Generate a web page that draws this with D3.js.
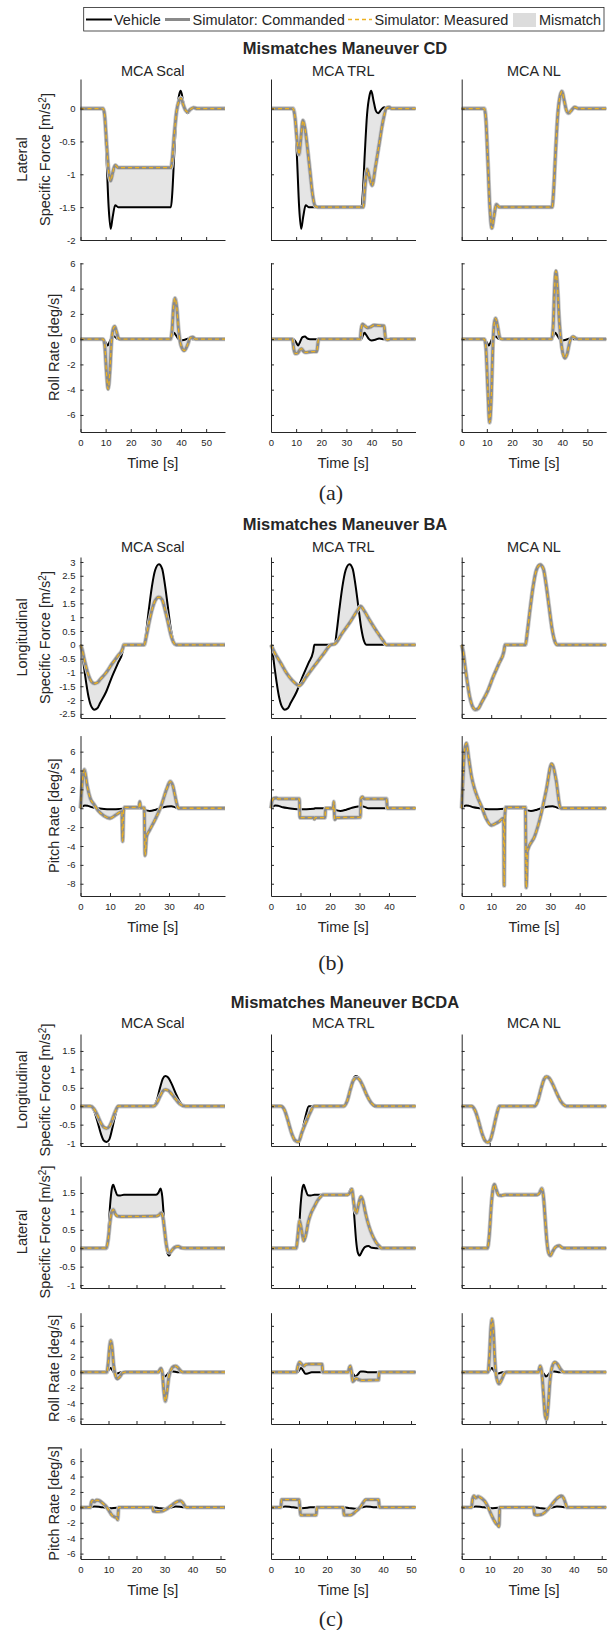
<!DOCTYPE html>
<html>
<head>
<meta charset="utf-8">
<script src="https://cdn.jsdelivr.net/npm/d3@7"></script>
<style>
body { margin: 0; background: #fff; }
text { font-family: "Liberation Sans", Arial, sans-serif; fill: #262626; }
</style>
</head>
<body>
<svg id="fig" width="616" height="1630"></svg>
<script>
// ---- values: [time s, value] ----
const columns = ['MCA Scal', 'MCA TRL', 'MCA NL'];

// (a) maneuver CD, lateral specific force
const cdLatVeh = [[0,0],[9,0],[9.6,-0.15],[10.4,-0.8],[11.2,-1.5],[12,-1.83],[12.8,-1.65],[13.8,-1.47],[15,-1.5],[36,-1.5],[36.5,-1.3],[37.3,-0.7],[38.2,-0.1],[39.2,0.2],[39.9,0.27],[40.8,0.12],[41.7,-0.03],[42.6,-0.07],[43.8,-0.02],[45,0.02],[46.5,0],[57.5,0]];
const cdLatScal = [[0,0],[9,0],[9.6,-0.1],[10.4,-0.55],[11.2,-0.95],[12,-1.1],[12.8,-0.98],[13.8,-0.86],[15,-0.9],[36,-0.9],[36.5,-0.78],[37.3,-0.4],[38.2,-0.05],[39.2,0.12],[40,0.16],[40.8,0.07],[41.7,-0.02],[42.6,-0.05],[43.8,-0.01],[45,0.015],[46.5,0],[57.5,0]];
const cdLatTrl = [[0,0],[8.8,0],[9.6,-0.15],[10.4,-0.5],[11.2,-0.7],[11.9,-0.45],[12.7,-0.18],[13.5,-0.3],[14.5,-0.6],[15.5,-0.95],[16.5,-1.3],[17.5,-1.48],[18.5,-1.5],[36.7,-1.5],[37.4,-1.2],[38.3,-0.92],[39.2,-1.05],[40.2,-1.17],[41.5,-0.9],[43,-0.55],[44.5,-0.2],[46,0.01],[47,0.02],[48,0],[57.5,0]];
const cdLatNl = [[0,0],[9,0],[9.6,-0.15],[10.4,-0.8],[11.2,-1.5],[12,-1.82],[12.8,-1.65],[13.8,-1.46],[15,-1.5],[36,-1.5],[36.5,-1.3],[37.3,-0.7],[38.2,-0.1],[39.2,0.2],[39.9,0.26],[40.8,0.12],[41.7,-0.03],[42.6,-0.07],[43.8,-0.02],[45,0.02],[46.5,0],[57.5,0]];

// (a) maneuver CD, roll rate
const cdRollVeh = [[0,0],[9,0],[9.8,-0.2],[10.8,-0.5],[11.6,-0.2],[12.5,0.15],[13.5,0.2],[14.5,0.05],[15.5,0],[36,0],[36.6,0.3],[37.2,0.5],[38,0.3],[39,0],[40,-0.1],[41.5,-0.05],[43,0.05],[44.5,0],[57.5,0]];
const cdRollScal = [[0,0],[9,0],[9.6,-0.4],[10.3,-2.5],[11,-3.95],[11.7,-2.5],[12.3,-0.3],[13,0.8],[13.6,1.0],[14.3,0.6],[15.2,0.05],[16,0],[35.8,0],[36.4,0.6],[37,2.5],[37.6,3.25],[38.3,2.5],[39,0.8],[40,-0.5],[41.3,-0.9],[42.5,-0.5],[43.7,0.1],[44.7,0.15],[45.8,0],[57.5,0]];
const cdRollTrl = [[0,0],[8.5,0],[9.1,-0.8],[9.7,-1.15],[10.6,-1.1],[11.3,-0.9],[12.1,-0.75],[12.9,-0.95],[13.7,-1.05],[15.5,-1.0],[18.2,-0.98],[18.6,-0.4],[18.9,0],[35.5,0],[35.9,0.8],[36.4,1.18],[37.3,1.05],[38.5,0.9],[39.5,0.95],[41,1.1],[43,1.07],[45,1.05],[45.3,0.5],[45.6,0],[46.5,-0.05],[47.5,0],[57.5,0]];
const cdRollNl = [[0,0],[9,0],[9.6,-0.6],[10.4,-4],[11.1,-6.6],[11.8,-4.5],[12.4,-0.5],[13,1.3],[13.5,1.65],[14.2,1.1],[15.2,0.1],[16,0],[35.8,0],[36.4,1],[37,4.2],[37.5,5.4],[38.1,4.2],[38.8,1.5],[39.8,-0.6],[41,-1.5],[41.9,-1.2],[43,-0.2],[44.3,0.2],[45.5,0.05],[46.5,0],[57.5,0]];

// (b) maneuver BA, longitudinal specific force
const baLonVeh = [[0,0],[0.5,-0.25],[1.3,-0.9],[2.7,-1.87],[3.7,-2.24],[4.7,-2.35],[5.7,-2.3],[6.7,-2.1],[8.7,-1.7],[10.7,-1.15],[12.7,-0.66],[14.3,-0.24],[14.7,0],[21.6,0],[22.3,0.5],[23.2,1.3],[24.2,2.1],[25.3,2.7],[26.6,2.92],[27.7,2.75],[28.6,2.2],[29.6,1.4],[30.6,0.6],[31.6,0.12],[32.4,0],[49,0]];
const baLonScal = [[0,0],[0.5,-0.15],[1.3,-0.54],[2.7,-1.1],[3.7,-1.33],[4.7,-1.4],[5.7,-1.37],[6.7,-1.25],[8.7,-1.01],[10.7,-0.69],[12.7,-0.4],[14.3,-0.14],[14.7,0],[21.6,0],[22.3,0.3],[23.2,0.78],[24.2,1.25],[25.3,1.6],[26.6,1.73],[27.7,1.63],[28.6,1.3],[29.6,0.85],[30.6,0.38],[31.6,0.08],[32.4,0],[49,0]];
const baLonTrl = [[0,0],[1.3,-0.3],[3.3,-0.66],[5.3,-1.03],[7.3,-1.3],[9.6,-1.48],[12,-1.15],[15,-0.72],[18,-0.3],[20.3,0],[21.6,0.03],[24,0.4],[27,0.85],[29.5,1.28],[30.4,1.4],[31.3,1.28],[33.5,0.88],[36,0.46],[38,0.15],[39.1,0],[49,0]];
const baLonNl = [[0,0],[0.5,-0.25],[1.3,-0.9],[2.7,-1.87],[3.7,-2.24],[4.7,-2.35],[5.7,-2.3],[6.7,-2.1],[8.7,-1.7],[10.7,-1.15],[12.7,-0.66],[14.3,-0.24],[14.7,0],[21.6,0],[22.3,0.5],[23.2,1.3],[24.2,2.1],[25.3,2.7],[26.6,2.9],[27.7,2.75],[28.6,2.2],[29.6,1.4],[30.6,0.6],[31.6,0.12],[32.4,0],[49,0]];

// (b) maneuver BA, pitch rate
const baPitchVeh = [[0,0],[0.7,0.2],[1.5,0.3],[2.5,0.25],[4,0.1],[6,0],[9,-0.1],[12,-0.1],[14.5,-0.05],[15,0],[21.5,0],[22,-0.2],[23.5,-0.28],[25.5,-0.15],[27.5,0.05],[29.5,0.18],[30.8,0.22],[32,0.12],[33,0],[49,0]];
const baPitchScal = [[0,0],[0.4,1.8],[0.9,3.6],[1.3,4.1],[2.3,2.3],[3.3,1.06],[4.7,0.35],[6,-0.25],[8,-0.8],[10,-1.06],[12,-0.7],[14,-0.35],[14.3,-3.5],[14.6,-0.3],[15,0.1],[19.8,0.1],[20.1,0.7],[20.4,0.05],[21.6,0.05],[21.9,-5.0],[22.4,-3.0],[23.3,-2.4],[25.3,-1.2],[27.3,0.2],[29.3,2.1],[30.4,2.83],[31.3,2.4],[32,1.4],[32.7,0.4],[33.2,0],[49,0]];
const baPitchTrl = [[0,0],[0.5,0.9],[1,1.05],[1.8,1.1],[2.5,1.0],[9.6,1.0],[9.8,-1.0],[14.5,-1.0],[14.7,-1.15],[15,-1.0],[18.3,-1.0],[18.5,0],[21.1,0],[21.3,0.7],[21.6,-1.2],[22.2,-1.0],[30.3,-0.95],[30.5,1.0],[31,1.2],[31.6,1.0],[39.2,1.0],[39.4,0],[49,0]];
const baPitchNl = [[0,0],[0.5,3.5],[1,6.2],[1.6,6.9],[2.3,5.5],[3.3,3.4],[4.3,2.1],[5.3,1.2],[6.7,0.2],[8.3,-1.1],[10,-1.8],[11.3,-1.65],[12.7,-1.4],[14.2,-1.06],[14.4,-8.2],[14.6,-1],[14.9,0.1],[21.6,0.1],[21.9,-8.4],[22.3,-4.5],[24.7,-3.0],[26.7,-0.9],[28.7,1.95],[30.5,4.7],[32,3.0],[33.3,0.2],[33.7,0],[49,0]];

// (c) maneuver BCDA, longitudinal specific force
const bcdaLonVeh = [[0,0],[3.5,0],[4.8,-0.12],[6,-0.4],[7.3,-0.75],[8.3,-0.93],[9.3,-0.97],[10.3,-0.9],[11.3,-0.62],[12.4,-0.25],[13.5,0],[26,0],[27.2,0.15],[28.4,0.5],[29.4,0.75],[30.3,0.82],[31.3,0.78],[32.6,0.6],[34,0.35],[35.5,0.12],[37.5,0],[51.6,0]];
const bcdaLonScal = [[0,0],[3.5,0],[4.8,-0.07],[6,-0.24],[7.3,-0.46],[8.3,-0.57],[9.3,-0.6],[10.3,-0.55],[11.3,-0.38],[12.4,-0.15],[13.5,0],[26,0],[27.2,0.08],[28.4,0.27],[29.4,0.41],[30.3,0.45],[31.3,0.43],[32.6,0.33],[34,0.19],[35.5,0.06],[37.5,0],[51.6,0]];
const bcdaLonTrl = [[0,0],[3.5,0],[4.8,-0.1],[6,-0.38],[7.3,-0.72],[8.5,-0.92],[9.8,-0.97],[11,-0.72],[12.4,-0.45],[13.8,-0.2],[15.4,0],[26,0],[27.2,0.14],[28.4,0.47],[29.4,0.7],[30.5,0.77],[31.5,0.73],[32.8,0.55],[34.2,0.3],[35.7,0.1],[37.5,0],[51.6,0]];
const bcdaLonNl = [[0,0],[3.5,0],[4.8,-0.12],[6,-0.4],[7.3,-0.75],[8.3,-0.93],[9.3,-0.98],[10.3,-0.9],[11.3,-0.62],[12.4,-0.25],[13.5,0],[26,0],[27.2,0.15],[28.4,0.49],[29.4,0.73],[30.3,0.8],[31.3,0.76],[32.6,0.58],[34,0.34],[35.5,0.12],[37.5,0],[51.6,0]];

// (c) maneuver BCDA, lateral specific force
const bcdaLatVeh = [[0,0],[9.2,0],[9.9,0.4],[10.6,1.2],[11.2,1.62],[11.7,1.72],[12.3,1.6],[13.2,1.44],[14.2,1.43],[15.5,1.45],[27,1.45],[27.8,1.5],[28.6,1.62],[29.2,1.4],[29.8,0.8],[30.4,0.2],[31,-0.12],[31.7,-0.2],[32.4,-0.1],[33.5,0.03],[34.8,0.06],[36,0.01],[37.5,0],[51.6,0]];
const bcdaLatScal = [[0,0],[9.2,0],[9.9,0.25],[10.6,0.75],[11.2,1.0],[11.7,1.05],[12.3,0.95],[13.2,0.87],[14.5,0.86],[27,0.87],[28,0.9],[28.8,0.96],[29.4,0.85],[30,0.5],[30.6,0.12],[31.2,-0.08],[31.9,-0.12],[32.6,-0.06],[33.6,0.02],[34.9,0.05],[36,0.01],[37.5,0],[51.6,0]];
const bcdaLatTrl = [[0,0],[9,0],[9.6,0.35],[10.2,0.75],[10.8,0.55],[11.7,0.2],[12.4,0.35],[13.3,0.71],[14.3,0.95],[15.4,1.12],[16.5,1.28],[17.6,1.39],[18.5,1.45],[27.4,1.45],[28.3,1.52],[28.9,1.6],[29.6,1.2],[30.5,0.95],[31.3,1.2],[32.1,1.4],[32.8,1.3],[33.6,1.0],[34.4,0.75],[35.5,0.48],[36.5,0.3],[37.6,0.15],[38.6,0.06],[39.5,0],[51.6,0]];
const bcdaLatNl = [[0,0],[9.2,0],[9.9,0.4],[10.6,1.2],[11.2,1.62],[11.7,1.73],[12.3,1.6],[13.2,1.44],[14.2,1.43],[15.5,1.45],[27,1.45],[27.8,1.5],[28.6,1.62],[29.2,1.4],[29.8,0.8],[30.4,0.2],[31,-0.12],[31.7,-0.2],[32.4,-0.1],[33.5,0.03],[34.8,0.07],[36,0.01],[37.5,0],[51.6,0]];

// (c) maneuver BCDA, roll rate
const bcdaRollVeh = [[0,0],[9.5,0],[10.2,0.35],[10.8,0.53],[11.5,0.2],[12.3,-0.2],[13.2,-0.15],[14.5,0],[28,0],[28.6,0.1],[29.3,-0.2],[30.1,-0.55],[31,-0.3],[32,0.1],[33,0.1],[34.5,0],[51.6,0]];
const bcdaRollScal = [[0,0],[9.4,0],[9.9,1.2],[10.4,3.3],[10.8,4.1],[11.3,3.2],[11.8,1.0],[12.4,-0.3],[13.2,-0.85],[14,-0.6],[15,-0.1],[16,0],[27.8,0],[28.3,0.3],[28.7,0.5],[29.2,0],[29.7,-2.2],[30.3,-3.75],[30.9,-2.5],[31.5,-0.7],[32.3,0.3],[33.3,0.75],[34,0.8],[35,0.5],[36.2,0.05],[37,0],[51.6,0]];
const bcdaRollTrl = [[0,0],[9.1,0],[9.6,0.8],[10.2,1.3],[10.9,1.05],[11.7,0.8],[12.5,1.0],[13.5,1.05],[18.2,1.05],[18.5,0],[27.5,0],[28,0.6],[28.3,0.8],[28.7,0.2],[29.2,-1.2],[29.8,-1.0],[30.4,-0.8],[31.3,-0.95],[32.5,-1.05],[38.4,-1.0],[38.6,0],[51.6,0]];
const bcdaRollNl = [[0,0],[9.4,0],[9.9,2],[10.4,5.6],[10.8,6.9],[11.3,5.4],[11.8,1.8],[12.4,-0.6],[13.3,-1.5],[14.2,-1.0],[15.2,-0.2],[16,0],[27.4,0],[28,0.8],[28.5,0.3],[29.2,-2.8],[29.8,-5.6],[30.3,-6.1],[30.9,-4.2],[31.5,-1.2],[32.3,0.7],[33.3,1.3],[34.2,1.05],[35.3,0.4],[36.5,0],[51.6,0]];

// (c) maneuver BCDA, pitch rate
const bcdaPitchVeh = [[0,0],[3.5,0],[5,0.12],[7,0.05],[9,-0.05],[11,-0.1],[13,-0.05],[14,0],[26,0],[28,-0.1],[30,-0.18],[32,-0.05],[34,0.1],[36,0.05],[37.5,0],[51.6,0]];
const bcdaPitchScal = [[0,0],[3.5,0],[3.9,0.7],[4.3,0.9],[4.9,0.72],[5.8,0.95],[6.8,0.85],[8,0.5],[9.4,0],[10.3,-0.5],[11.2,-1.0],[12.2,-1.25],[12.9,-1.35],[13.3,-1.6],[13.6,0],[25.7,0],[26,-0.5],[27,-0.55],[29,-0.5],[30.2,-0.32],[31.6,0],[32.5,0.25],[33.4,0.5],[34.6,0.75],[35.6,0.85],[36.5,0.6],[37.2,0.2],[37.9,0],[51.6,0]];
const bcdaPitchTrl = [[0,0],[3.5,0],[3.8,1.0],[10,1.0],[10.3,0],[10.6,-1.0],[16.1,-1.0],[16.4,0],[25.8,0],[26.1,-1.0],[28.3,-1.0],[29.2,-0.85],[30.3,-0.5],[31.4,-0.15],[32.2,0.2],[33,0.65],[33.8,1.0],[38.4,1.0],[38.7,0],[51.6,0]];
const bcdaPitchNl = [[0,0],[3.5,0],[3.9,1.1],[4.4,1.47],[5,1.2],[5.9,1.4],[7,1.2],[8.2,0.8],[9.4,0.05],[10.4,-0.8],[11.3,-1.5],[12.3,-2.1],[12.9,-2.3],[13.3,-2.5],[13.6,0],[25.7,0],[26,-0.9],[27,-1.0],[28.3,-0.95],[29.5,-0.7],[30.6,-0.3],[31.6,0.1],[32.5,0.5],[33.6,1.0],[34.7,1.35],[35.6,1.47],[36.4,1.2],[37.1,0.5],[37.6,0],[51.6,0]];

const forceTicks = [-2, -1.5, -1, -0.5, 0];
const cdRateTicks = [-6, -4, -2, 0, 2, 4, 6];
const baForceTicks = [-2.5, -2, -1.5, -1, -0.5, 0, 0.5, 1, 1.5, 2, 2.5, 3];
const baRateTicks = [-8, -6, -4, -2, 0, 2, 4, 6];
const bcdaForceTicks = [-1, -0.5, 0, 0.5, 1, 1.5];
const bcdaRateTicks = [-6, -4, -2, 0, 2, 4, 6];

// ---- layout ----
const svg = d3.select('#fig');
const colX = [80.5, 271, 461.7];
const panelW = 144.5;
const ink = '#262626';

const sections = [
    {
        title: 'Mismatches Maneuver CD', tag: '(a)', titleY: 48, colTitleY: 71,
        xMax: 57.5, xTicks: [0, 10, 20, 30, 40, 50], tagY: 492,
        rows: [
            {top: 79, bottom: 240, yDom: [-2, 0.45], yTicks: forceTicks, label: ['Lateral', 'force'],
             veh: cdLatVeh, sim: [cdLatScal, cdLatTrl, cdLatNl]},
            {top: 262.7, bottom: 432, yDom: [-7.35, 6.05], yTicks: cdRateTicks, label: ['Roll Rate [deg/s]'],
             veh: cdRollVeh, sim: [cdRollScal, cdRollTrl, cdRollNl]}
        ]
    },
    {
        title: 'Mismatches Maneuver BA', tag: '(b)', titleY: 524, colTitleY: 547,
        xMax: 49, xTicks: [0, 10, 20, 30, 40], tagY: 962,
        rows: [
            {top: 557, bottom: 718, yDom: [-2.65, 3.18], yTicks: baForceTicks, label: ['Longitudinal', 'force'],
             veh: baLonVeh, sim: [baLonScal, baLonTrl, baLonNl]},
            {top: 735.6, bottom: 896, yDom: [-9.3, 7.7], yTicks: baRateTicks, label: ['Pitch Rate [deg/s]'],
             veh: baPitchVeh, sim: [baPitchScal, baPitchTrl, baPitchNl]}
        ]
    },
    {
        title: 'Mismatches Maneuver BCDA', tag: '(c)', titleY: 1002, colTitleY: 1023,
        xMax: 51.6, xTicks: [0, 10, 20, 30, 40, 50], tagY: 1618,
        rows: [
            {top: 1034, bottom: 1146, yDom: [-1.08, 1.96], yTicks: bcdaForceTicks, label: ['Longitudinal', 'force'],
             veh: bcdaLonVeh, sim: [bcdaLonScal, bcdaLonTrl, bcdaLonNl]},
            {top: 1176, bottom: 1288, yDom: [-1.08, 1.96], yTicks: bcdaForceTicks, label: ['Lateral', 'force'],
             veh: bcdaLatVeh, sim: [bcdaLatScal, bcdaLatTrl, bcdaLatNl]},
            {top: 1312.7, bottom: 1424, yDom: [-6.7, 7.7], yTicks: bcdaRateTicks, label: ['Roll Rate [deg/s]'],
             veh: bcdaRollVeh, sim: [bcdaRollScal, bcdaRollTrl, bcdaRollNl]},
            {top: 1448, bottom: 1559, yDom: [-6.7, 7.7], yTicks: bcdaRateTicks, label: ['Pitch Rate [deg/s]'],
             veh: bcdaPitchVeh, sim: [bcdaPitchScal, bcdaPitchTrl, bcdaPitchNl]}
        ]
    }
];

// legend
var leg = svg.append('g');
leg.append('rect').attr('x', 83.7).attr('y', 7.5).attr('width', 520.3).attr('height', 23.5)
    .attr('fill', '#fff').attr('stroke', ink).attr('stroke-width', 0.8);
leg.append('line').attr('x1', 86).attr('x2', 112).attr('y1', 19.5).attr('y2', 19.5)
    .attr('stroke', '#000').attr('stroke-width', 2);
leg.append('line').attr('x1', 165).attr('x2', 190).attr('y1', 19.5).attr('y2', 19.5)
    .attr('stroke', '#8a8a8a').attr('stroke-width', 3);
leg.append('line').attr('x1', 348).attr('x2', 372).attr('y1', 19.5).attr('y2', 19.5)
    .attr('stroke', '#EDB120').attr('stroke-width', 1.3).attr('stroke-dasharray', '4,3');
leg.append('rect').attr('x', 513).attr('y', 13).attr('width', 23).attr('height', 14).attr('fill', '#dcdcdc');
[['Vehicle', 114], ['Simulator: Commanded', 192.5], ['Simulator: Measured', 374.5], ['Mismatch', 539]]
    .forEach(d => leg.append('text').attr('x', d[1]).attr('y', 19.5).attr('dy', '0.35em')
        .style('font-size', '14.5px').text(d[0]));

sections.forEach(sec => {
    svg.append('text')
        .attr('x', 345).attr('y', sec.titleY).attr('dy', '0.35em')
        .attr('text-anchor', 'middle').style('font-size', '16.5px').style('font-weight', 'bold')
        .text(sec.title);

    columns.forEach((c, ci) => {
        svg.append('text')
            .attr('x', colX[ci] + panelW / 2).attr('y', sec.colTitleY).attr('dy', '0.35em')
            .attr('text-anchor', 'middle').style('font-size', '14.5px').text(c);
    });

    const lastRow = sec.rows.length - 1;

    sec.rows.forEach((row, ri) => {
        var y = d3.scaleLinear().domain(row.yDom).range([row.bottom, row.top]);
        var mid = (row.top + row.bottom) / 2;

        //y label, one or two lines
        if (row.label.length === 2) {
            svg.append('text')
                .attr('transform', 'translate(22.4,' + mid + ') rotate(-90)')
                .attr('text-anchor', 'middle').attr('dy', '0.35em').style('font-size', '14.5px')
                .text(row.label[0]);
            var t = svg.append('text')
                .attr('transform', 'translate(45.2,' + mid + ') rotate(-90)')
                .attr('text-anchor', 'middle').attr('dy', '0.35em').style('font-size', '14.5px');
            t.append('tspan').text('Specific Force [m/s');
            t.append('tspan').attr('dy', '-0.45em').style('font-size', '10px').text('2');
            t.append('tspan').attr('dy', '0.45em').text(']');
        } else {
            svg.append('text')
                .attr('transform', 'translate(53.8,' + mid + ') rotate(-90)')
                .attr('text-anchor', 'middle').attr('dy', '0.35em').style('font-size', '14.5px')
                .text(row.label[0]);
        }

        columns.forEach((c, ci) => {
            var x = d3.scaleLinear().domain([0, sec.xMax]).range([colX[ci], colX[ci] + panelW]);
            var g = svg.append('g');

            var line = d3.line().x(d => x(d[0])).y(d => y(d[1])).curve(d3.curveMonotoneX);
            var area = d3.area().x(d => x(d[0])).y0(y(0)).y1(d => y(d[1])).curve(d3.curveMonotoneX);
            var sim = row.sim[ci];

            // region between vehicle and simulator: even-odd of the two areas to zero
            g.append('path').attr('d', area(row.veh) + area(sim))
                .attr('fill', '#e5e5e5').attr('fill-rule', 'evenodd');

            g.append('path').attr('d', line(row.veh)).attr('fill', 'none')
                .attr('stroke', '#000').attr('stroke-width', 2);
            g.append('path').attr('d', line(sim)).attr('fill', 'none')
                .attr('stroke', '#c8c8c8').attr('stroke-width', 4.4).attr('stroke-linejoin', 'round');
            g.append('path').attr('d', line(sim)).attr('fill', 'none')
                .attr('stroke', '#8a8a8a').attr('stroke-width', 2.8).attr('stroke-linejoin', 'round');
            g.append('path').attr('d', line(sim)).attr('fill', 'none')
                .attr('stroke', '#EDB120').attr('stroke-width', 1.3).attr('stroke-dasharray', '4,3');

            var yAxis = d3.axisLeft(y).tickValues(row.yTicks).tickSize(-3).tickSizeOuter(0).tickPadding(5)
                .tickFormat(ci === 0 ? (d => String(d)) : '');
            g.append('g').attr('transform', 'translate(' + colX[ci] + ',0)')
                .attr('color', ink).call(yAxis)
                .call(a => a.selectAll('text').style('font-size', '9.5px').style('font-family', null));

            var xAxis = d3.axisBottom(x).tickValues(sec.xTicks).tickSize(-3).tickSizeOuter(0).tickPadding(7)
                .tickFormat(ri === lastRow ? (d => String(d)) : '');
            g.append('g').attr('transform', 'translate(0,' + row.bottom + ')')
                .attr('color', ink).call(xAxis)
                .call(a => a.selectAll('text').style('font-size', '9.5px').style('font-family', null));

            if (ri === lastRow) {
                svg.append('text')
                    .attr('x', colX[ci] + panelW / 2).attr('y', row.bottom + 30.5).attr('dy', '0.35em')
                    .attr('text-anchor', 'middle').style('font-size', '14.5px').text('Time [s]');
            }
        });
    });

    svg.append('text')
        .attr('x', 331).attr('y', sec.tagY).attr('dy', '0.35em')
        .attr('text-anchor', 'middle').style('font-family', '"Liberation Serif", "Times New Roman", serif')
        .style('font-size', '22px').text(sec.tag);
});
</script>
</body>
</html>
